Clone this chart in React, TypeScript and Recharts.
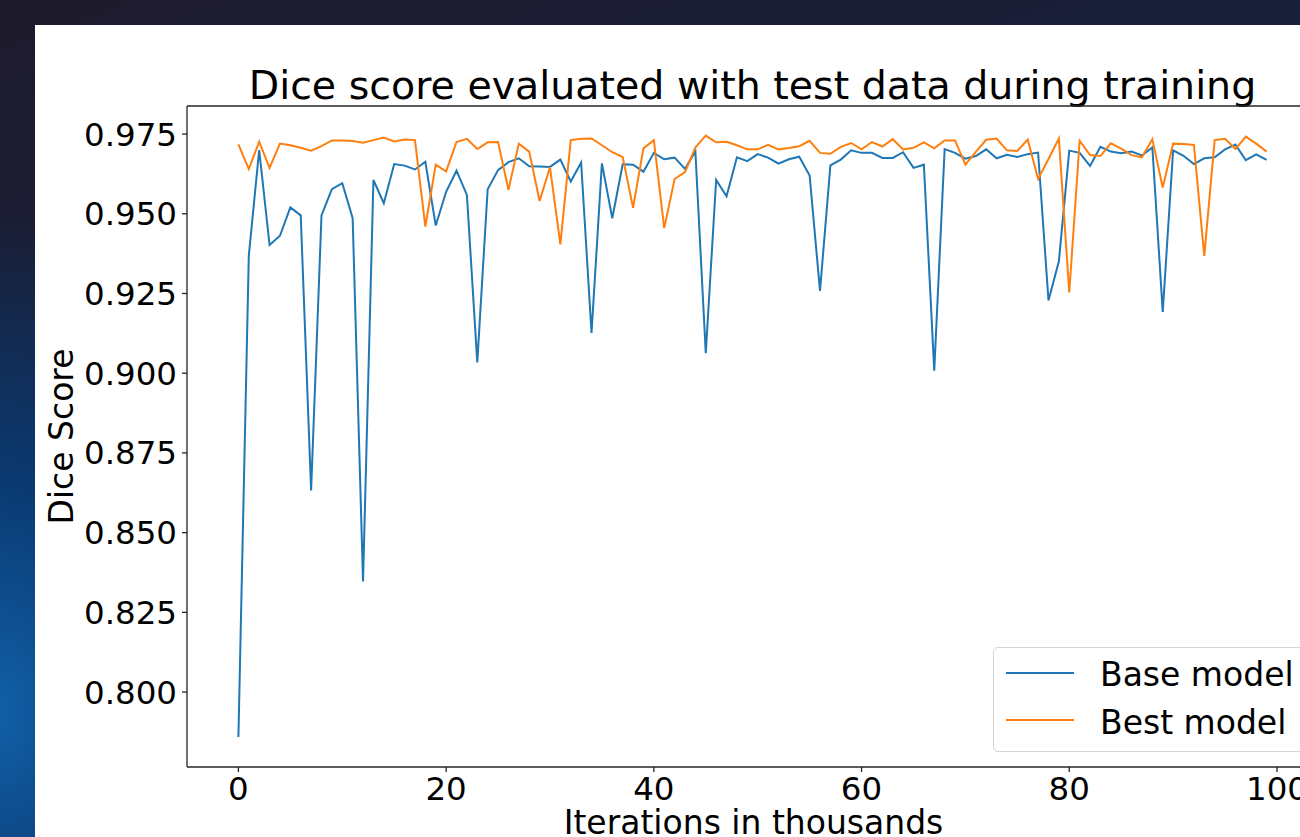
import React from "react";
import { LineChart, Line, XAxis, YAxis, Legend, ReferenceLine } from "recharts";

// iterations (thousands) on the x axis
const iterations = [
  0, 1, 2, 3, 4, 5, 6, 7, 8, 9, 10, 11, 12, 13, 14, 15, 16, 17, 18, 19,
  20, 21, 22, 23, 24, 25, 26, 27, 28, 29, 30, 31, 32, 33, 34, 35, 36, 37, 38, 39,
  40, 41, 42, 43, 44, 45, 46, 47, 48, 49, 50, 51, 52, 53, 54, 55, 56, 57, 58, 59,
  60, 61, 62, 63, 64, 65, 66, 67, 68, 69, 70, 71, 72, 73, 74, 75, 76, 77, 78, 79,
  80, 81, 82, 83, 84, 85, 86, 87, 88, 89, 90, 91, 92, 93, 94, 95, 96, 97, 98, 99,
];

const baseModel = [
  0.7859, 0.9368, 0.97, 0.9402, 0.9431, 0.952, 0.9495, 0.8632, 0.9495, 0.9577,
  0.9596, 0.9486, 0.8347, 0.9606, 0.9533, 0.9656, 0.9651, 0.9639, 0.9663, 0.9463,
  0.9569, 0.9635, 0.9559, 0.9034, 0.9577, 0.9637, 0.9662, 0.9674, 0.9649, 0.9648,
  0.9647, 0.967, 0.9601, 0.9661, 0.9126, 0.9658, 0.9486, 0.9655, 0.9654, 0.9632,
  0.9691, 0.9671, 0.9676, 0.9641, 0.9695, 0.9063, 0.9606, 0.9555, 0.9677, 0.9665,
  0.9687, 0.9676, 0.9657, 0.9671, 0.9679, 0.962, 0.9258, 0.9652, 0.967, 0.9699,
  0.9691, 0.9691, 0.9675, 0.9675, 0.9693, 0.9644, 0.9654, 0.9008, 0.9703, 0.9691,
  0.9673, 0.9681, 0.9702, 0.9674, 0.9685, 0.9678, 0.9687, 0.9692, 0.9228, 0.9351,
  0.9698, 0.9691, 0.965, 0.971, 0.9695, 0.969, 0.9695, 0.9683, 0.9708, 0.9192,
  0.9699, 0.9682, 0.9656, 0.9674, 0.9677, 0.9702, 0.9717, 0.9668, 0.9686, 0.9669,
];

const bestModel = [
  0.9718, 0.964, 0.9726, 0.9644, 0.972, 0.9715, 0.9707, 0.9698, 0.9712, 0.973,
  0.973, 0.9728, 0.9723, 0.9731, 0.9739, 0.9727, 0.9733, 0.9731, 0.946, 0.9654,
  0.9633, 0.9725, 0.9735, 0.9703, 0.9724, 0.9725, 0.9575, 0.972, 0.9695, 0.954,
  0.9646, 0.9404, 0.9731, 0.9735, 0.9736, 0.9715, 0.9693, 0.9678, 0.9519, 0.9705,
  0.9731, 0.9455, 0.9609, 0.9631, 0.9708, 0.9745, 0.9724, 0.9726, 0.9715, 0.9702,
  0.9702, 0.9716, 0.9702, 0.9706, 0.9712, 0.9729, 0.9691, 0.9688, 0.971, 0.9722,
  0.9702, 0.9725, 0.9711, 0.9734, 0.9702, 0.9707, 0.9724, 0.9705, 0.973, 0.973,
  0.9654, 0.9694, 0.9732, 0.9736, 0.9699, 0.9697, 0.9733, 0.9609, 0.9672, 0.9736,
  0.9253, 0.9729, 0.9684, 0.9681, 0.9721, 0.9704, 0.9684, 0.9677, 0.9734, 0.9582,
  0.972, 0.9719, 0.9716, 0.9368, 0.9731, 0.9735, 0.9703, 0.9742, 0.972, 0.9695,
];

const xTicks = [0, 20, 40, 60, 80, 100];
const yTicks = [0.8, 0.825, 0.85, 0.875, 0.9, 0.925, 0.95, 0.975];
const xDomain = [-4.95, 103.95];
const yDomain = [0.7765, 0.9838];

const BLUE = "#1f77b4";
const ORANGE = "#ff7f0e";
const FONT = "'DejaVu Sans', sans-serif";
const SPINE = "#262626";

const data = iterations.map((it, i) => ({
  iter: it,
  base: baseModel[i],
  best: bestModel[i],
}));

function LegendBox(props: any) {
  const items = props.payload || [];
  return (
    <div
      style={{
        position: "relative",
        width: 360,
        height: 105,
        boxSizing: "border-box",
        border: "1px solid #d4d4d4",
        borderRadius: 5,
        background: "rgba(255,255,255,0.8)",
        fontFamily: FONT,
      }}
    >
      {items.map((item: any, i: number) => (
        <React.Fragment key={item.value}>
          <div
            style={{
              position: "absolute",
              left: 12,
              top: 23.7 + 47.6 * i,
              width: 68,
              height: 2,
              background: item.color,
            }}
          />
          <div
            style={{
              position: "absolute",
              left: 106,
              top: 10.1 + 47.6 * i,
              fontSize: 33,
              lineHeight: "33px",
              color: "#000",
              whiteSpace: "nowrap",
            }}
          >
            {item.value}
          </div>
        </React.Fragment>
      ))}
    </div>
  );
}

export default function App() {
  return (
    <div
      style={{
        position: "fixed",
        left: 0,
        top: 0,
        width: 1300,
        height: 837,
        overflow: "hidden",
        background:
          "radial-gradient(ellipse 300px 500px at 0% 85%, #1160a8 0%, #0a3a72 45%, rgba(10,40,80,0) 100%), linear-gradient(160deg, #1e1a2c 0%, #17203a 40%, #0b2c58 100%)",
      }}
    >
      <div
        style={{
          position: "absolute",
          left: 35,
          top: 25,
          width: 1265,
          height: 812,
          background: "#fff",
          overflow: "hidden",
        }}
      >
        <div
          style={{
            position: "absolute",
            left: 117.5,
            top: 40.3,
            width: 1200,
            textAlign: "center",
            fontFamily: FONT,
            fontSize: 39.5,
            lineHeight: "40px",
            color: "#000",
            whiteSpace: "nowrap",
          }}
        >
          Dice score evaluated with test data during training
        </div>
        <LineChart
          width={1300}
          height={812}
          data={data}
          margin={{ top: 81, right: 17, bottom: 0, left: 0 }}
          style={{ position: "absolute", left: 0, top: 0 }}
        >
          <XAxis
            dataKey="iter"
            type="number"
            domain={xDomain}
            ticks={xTicks}
            allowDataOverflow
            height={70}
            tickSize={5}
            tickMargin={5}
            axisLine={{ stroke: SPINE, strokeWidth: 1.3 }}
            tickLine={{ stroke: SPINE, strokeWidth: 1.3 }}
            tick={{ fill: "#000", fontSize: 32.5, fontFamily: FONT }}
            label={{
              content: (p: any) => {
                const vb = p.viewBox;
                return (
                  <text
                    x={vb.x + vb.width / 2 + 1}
                    y={vb.y + 67}
                    textAnchor="middle"
                    fontSize={33}
                    fontFamily={FONT}
                    fill="#000"
                  >
                    Iterations in thousands
                  </text>
                );
              },
            }}
          />
          <YAxis
            type="number"
            domain={yDomain}
            ticks={yTicks}
            allowDataOverflow
            width={152}
            tickSize={5}
            tickMargin={5}
            tickFormatter={(v: number) => v.toFixed(3)}
            axisLine={{ stroke: SPINE, strokeWidth: 1.3 }}
            tickLine={{ stroke: SPINE, strokeWidth: 1.3 }}
            tick={{ fill: "#000", fontSize: 32.5, fontFamily: FONT }}
            label={{
              content: (p: any) => {
                const vb = p.viewBox;
                const cx = 38;
                const cy = vb.y + vb.height / 2;
                return (
                  <text
                    x={cx}
                    y={cy}
                    transform={`rotate(-90, ${cx}, ${cy})`}
                    textAnchor="middle"
                    fontSize={33}
                    fontFamily={FONT}
                    fill="#000"
                  >
                    Dice Score
                  </text>
                );
              },
            }}
          />
          <ReferenceLine y={yDomain[1]} stroke={SPINE} strokeWidth={1.3} />
          <Line
            type="linear"
            dataKey="base"
            name="Base model"
            stroke={BLUE}
            strokeWidth={2}
            dot={false}
            isAnimationActive={false}
          />
          <Line
            type="linear"
            dataKey="best"
            name="Best model"
            stroke={ORANGE}
            strokeWidth={2}
            dot={false}
            isAnimationActive={false}
          />
          <Legend
            layout="vertical"
            align="center"
            verticalAlign="middle"
            content={<LegendBox />}
            wrapperStyle={{ position: "absolute", left: 958, top: 622, width: 360, height: 105 }}
          />
        </LineChart>
      </div>
    </div>
  );
}
